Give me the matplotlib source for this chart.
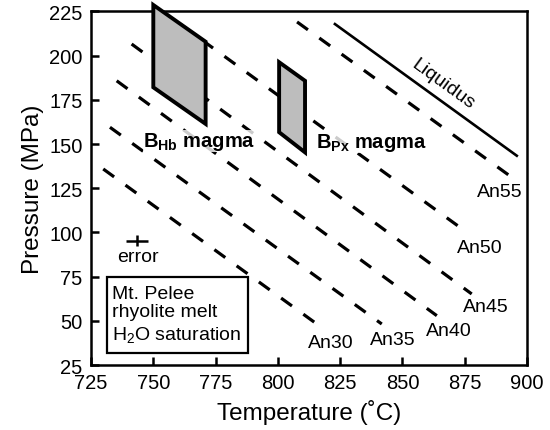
import matplotlib
matplotlib.use('Agg')
import matplotlib.pyplot as plt
from matplotlib.patches import Polygon, Rectangle

plt.rcParams['font.family'] = ['Liberation Sans', 'DejaVu Sans']
plt.rcParams['mathtext.fontset'] = 'custom'
plt.rcParams['mathtext.rm'] = 'Liberation Sans'
plt.rcParams['mathtext.it'] = 'Liberation Sans:italic'
plt.rcParams['mathtext.bf'] = 'Liberation Sans:bold'

# plagioclase isopleths (An content), end points (T in C, P in MPa)
an_labels = ['An30', 'An35', 'An40', 'An45', 'An50', 'An55']
an_t0 = [729.9, 732.6, 735.3, 741.3, 760.7, 807.7]
an_p0 = [135.9, 159.5, 185.8, 206.6, 217.9, 219.1]
an_t1 = [816.9, 841.7, 863.8, 877.8, 875.8, 893.2]
an_p1 = [46.9, 48.2, 52.9, 65.2, 100.1, 131.9]
# label anchor for each isopleth
lab_t = [821.4, 846.3, 868.8, 883.5, 881.1, 889.2]
lab_p = [38.0, 39.7, 44.4, 57.9, 91.6, 122.9]

liq_t = [822.9, 895.9]
liq_p = [217.9, 143.4]

# magma storage fields (parallelograms)
hb_t = [750, 771, 771, 750]
hb_p = [228.7, 207.9, 161.4, 182.1]
px_t = [800.5, 810.9, 810.9, 800.5]
px_p = [196.3, 185.8, 145.3, 156.7]

err_t, err_p = 743.5, 95.3
err_dt, err_dp = 4.3, 3.0

fig = plt.figure(figsize=(5.5, 4.31), dpi=100)
ax = fig.add_axes([0.1655, 0.1508, 0.7927, 0.8202])

for t0, p0, t1, p1 in zip(an_t0, an_p0, an_t1, an_p1):
    ax.plot([t0, t1], [p0, p1], color='black', lw=2.3,
            linestyle=(0, (4.2, 4.4)), solid_capstyle='butt', zorder=2)
for lab, t, p in zip(an_labels, lab_t, lab_p):
    ax.text(t, p, lab, ha='center', va='center', fontsize=14, zorder=4)

ax.plot(liq_t, liq_p, color='black', lw=1.9, zorder=2)
ax.text(866.3, 184, 'Liquidus', rotation=-36, rotation_mode='anchor',
        ha='center', va='center', fontsize=14)

for tt, pp in [(hb_t, hb_p), (px_t, px_p)]:
    ax.add_patch(Polygon(list(zip(tt, pp)), closed=True, facecolor='#bdbdbd',
                         edgecolor='black', lw=2.8, joinstyle='miter',
                         clip_on=False, zorder=5))

ax.text(745.9, 148.9, r'B$_{\mathbf{Hb}}$ magma', fontsize=14.5, fontweight='bold',
        ha='left', va='baseline', zorder=4,
        bbox=dict(facecolor='white', edgecolor='none', pad=0, alpha=0.8))
ax.text(815.2, 148.2, r'B$_{\mathbf{Px}}$ magma', fontsize=14.5, fontweight='bold',
        ha='left', va='baseline', zorder=4,
        bbox=dict(facecolor='white', edgecolor='none', pad=0, alpha=0.8))

ax.errorbar([err_t], [err_p], xerr=[err_dt], yerr=[err_dp], fmt='none',
            ecolor='black', elinewidth=1.8, capsize=0)
ax.text(743.9, 86.5, 'error', ha='center', va='center', fontsize=14)

ax.add_patch(Rectangle((731.3, 31.8), 56.8, 43.2, facecolor='white',
                       edgecolor='black', lw=1.6, zorder=3))
ax.text(733.5, 65.2, 'Mt. Pelee', ha='left', va='center', fontsize=14, zorder=4)
ax.text(733.5, 55.0, 'rhyolite melt', ha='left', va='center', fontsize=14, zorder=4)
ax.text(733.5, 42.6, r'H$_2$O saturation', ha='left', va='center', fontsize=14, zorder=4)

ax.set_xlim(725, 900)
ax.set_ylim(25, 225)
ax.set_xticks(range(725, 901, 25))
ax.set_yticks(range(25, 226, 25))
ax.tick_params(direction='in', length=5.5, width=1.8, labelsize=14.5, pad=6,
               top=False, right=False)
for s in ax.spines.values():
    s.set_linewidth(1.8)

ax.set_xlabel('Temperature (˚C)', fontsize=17.5, labelpad=5)
ax.set_ylabel('Pressure (MPa)', fontsize=17.5, labelpad=4)

fig.savefig('out.png', dpi=100)
